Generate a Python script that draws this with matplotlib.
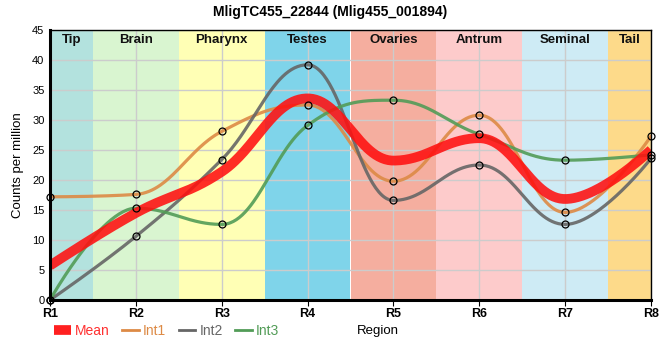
import numpy as np
import matplotlib
matplotlib.use('Agg')
import matplotlib.pyplot as plt
from matplotlib.lines import Line2D

plt.rcParams['font.family'] = ['Liberation Sans', 'DejaVu Sans']

regions = ['R1', 'R2', 'R3', 'R4', 'R5', 'R6', 'R7', 'R8']
int1 = [17.2, 17.6, 28.1, 32.5, 19.8, 30.8, 14.6, 27.3]
int2 = [0.0, 10.6, 23.4, 39.2, 16.6, 22.5, 12.6, 23.6]
int3 = [0.0, 15.3, 12.6, 29.1, 33.3, 27.6, 23.3, 24.2]

bands = ['Tip', 'Brain', 'Pharynx', 'Testes', 'Ovaries', 'Antrum', 'Seminal', 'Tail']
band_colors = ['#b3e2de', '#d9f5d0', '#ffffb5', '#7fd4ea', '#f5ae9f', '#fdcbcb', '#ceebf5', '#fdda8a']

mean = list(np.mean([int1, int2, int3], axis=0))


def spline(xs, ys, n=60, sm=1.5):
    # smoothed bezier spline, control points from neighbours, clamped at extremes
    xs = np.asarray(xs, float)
    ys = np.asarray(ys, float)
    k = len(xs)
    lx, ly = xs.copy(), ys.copy()
    rx, ry = xs.copy(), ys.copy()
    d = sm + 1
    for i in range(1, k - 1):
        x0, y0, x1, y1, x2, y2 = xs[i - 1], ys[i - 1], xs[i], ys[i], xs[i + 1], ys[i + 1]
        lcx, lcy = (sm * x1 + x0) / d, (sm * y1 + y0) / d
        rcx, rcy = (sm * x1 + x2) / d, (sm * y1 + y2) / d
        corr = (rcy - lcy) * (rcx - x1) / (rcx - lcx) + y1 - rcy
        lcy += corr
        rcy += corr
        if lcy > y0 and lcy > y1:
            lcy = max(y0, y1)
            rcy = 2 * y1 - lcy
        elif lcy < y0 and lcy < y1:
            lcy = min(y0, y1)
            rcy = 2 * y1 - lcy
        if rcy > y2 and rcy > y1:
            rcy = max(y2, y1)
            lcy = 2 * y1 - rcy
        elif rcy < y2 and rcy < y1:
            rcy = min(y2, y1)
            lcy = 2 * y1 - rcy
        lx[i], ly[i], rx[i], ry[i] = lcx, lcy, rcx, rcy
    px, py = [], []
    t = np.linspace(0, 1, n)
    a, b, c, e = (1 - t)**3, 3 * (1 - t)**2 * t, 3 * (1 - t) * t**2, t**3
    for i in range(k - 1):
        px.extend(a * xs[i] + b * rx[i] + c * lx[i + 1] + e * xs[i + 1])
        py.extend(a * ys[i] + b * ry[i] + c * ly[i + 1] + e * ys[i + 1])
    return np.array(px), np.array(py)


x = np.arange(1, len(regions) + 1)

fig = plt.figure(figsize=(6.6, 3.6), dpi=100)
ax = fig.add_axes([50 / 660, 1 - 300 / 360, 601 / 660, 270 / 360])

for i, (name, c) in enumerate(zip(bands, band_colors)):
    lo = max(1, x[i] - 0.5)
    hi = min(8, x[i] + 0.5)
    ax.axvspan(lo, hi, color=c, lw=0, zorder=0)
    ax.text((lo + hi) / 2, 43.3, name, ha='center', va='center', fontsize=9.5,
            fontweight='bold', color='#111111', zorder=5)

ax.set_xlim(1, 8)
ax.set_ylim(0, 45)
ax.set_yticks(range(0, 46, 5))
ax.set_xticks(x)
ax.set_xticklabels(regions, fontsize=9, fontweight='bold')
ax.tick_params(axis='y', labelsize=8, length=0, pad=4)
ax.tick_params(axis='x', length=4, pad=2)
ax.grid(True, color='#cccccc', lw=1, zorder=1)
ax.set_axisbelow(False)
for sp in ['left', 'bottom']:
    ax.spines[sp].set_linewidth(2.2)
for sp in ['top', 'right']:
    ax.spines[sp].set_linewidth(1)
for sp in ax.spines.values():
    sp.set_zorder(10)

series = [(int1, '#dd8a45', 'Int1'), (int2, '#666666', 'Int2'), (int3, '#529c57', 'Int3')]
for ys, c, lab in series:
    px, py = spline(x, ys)
    ax.plot(px, py, color=c, lw=2.3, alpha=0.9, zorder=3, solid_capstyle='round')

px, py = spline(x, mean)
ax.plot(px, py, color='#ff1010', lw=7, alpha=0.88, zorder=4, solid_capstyle='butt')

for ys, c, lab in series:
    ax.plot(x, ys, ls='none', marker='o', ms=5, mfc='none', mec='black', mew=0.9,
            zorder=6, clip_on=False)

ax.set_ylabel('Counts per million', fontsize=9.5, labelpad=6)
fig.suptitle('MligTC455_22844 (Mlig455_001894)', fontsize=10, fontweight='bold', y=0.985)

handles = [Line2D([], [], color='#ff2020', lw=7, solid_capstyle='butt'),
           Line2D([], [], color='#dd8a45', lw=2),
           Line2D([], [], color='#666666', lw=2),
           Line2D([], [], color='#529c57', lw=2)]
leg = fig.legend(handles, ['Mean', 'Int1', 'Int2', 'Int3'], loc='center left',
                 bbox_to_anchor=(54 / 660, 1 - 331 / 360), ncol=4, frameon=False,
                 fontsize=10, handlelength=1.2, handletextpad=0.3, columnspacing=0.9,
                 borderpad=0, borderaxespad=0)
for t, c in zip(leg.get_texts(), ['#ff3030', '#dd8a45', '#666666', '#529c57']):
    t.set_color(c)

fig.text(357 / 660, 1 - 331 / 360, 'Region', fontsize=9.5, ha='left', va='center')

fig.savefig('out.png', dpi=100)
